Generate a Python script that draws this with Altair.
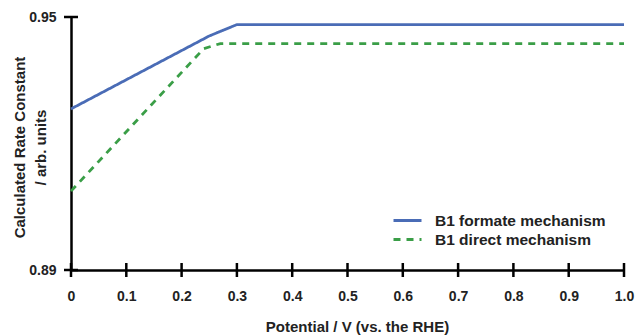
import altair as alt
import pandas as pd

series_names = ["B1 formate mechanism", "B1 direct mechanism"]
potential_formate = [0.0, 0.25, 0.3, 1.0]
rate_formate = [0.9282, 0.9455, 0.9482, 0.9482]
potential_direct = [0.0, 0.24, 0.27, 1.0]
rate_direct = [0.9087, 0.9425, 0.9437, 0.9437]
x_tick_values = [0.0, 0.1, 0.2, 0.3, 0.4, 0.5, 0.6, 0.7, 0.8, 0.9, 1.0]
y_tick_values = [0.89, 0.95]

blue = "#4a6cb6"
green = "#3a9e47"
font = "Liberation Sans"
txt = "#222222"

df = pd.concat([
    pd.DataFrame({"potential": potential_formate, "rate": rate_formate, "series": series_names[0]}),
    pd.DataFrame({"potential": potential_direct, "rate": rate_direct, "series": series_names[1]}),
])
xticks_df = pd.DataFrame({"potential": x_tick_values, "rate": [y_tick_values[0]] * len(x_tick_values)})
yticks_df = pd.DataFrame({"potential": [x_tick_values[0]] * len(y_tick_values), "rate": y_tick_values})

x_scale = alt.Scale(domain=[0, 1], nice=False, zero=False)
y_scale = alt.Scale(domain=[0.89, 0.95], nice=False, zero=False)

x_enc = alt.X(
    "potential:Q",
    scale=x_scale,
    axis=alt.Axis(
        values=x_tick_values,
        labelExpr="datum.value == 0 ? '0' : format(datum.value, '.1f')",
        title="Potential / V (vs. the RHE)",
        ticks=False, grid=False,
        domainColor="black", domainWidth=2.5,
        labelFont=font, labelFontSize=14, labelFontWeight="bold", labelColor=txt,
        labelPadding=19, labelFlush=False,
        titleFont=font, titleFontSize=15, titleFontWeight="bold", titleColor=txt,
        titleY=56, titleX=286, titleAlign="center", titleBaseline="middle",
    ),
)
y_enc = alt.Y(
    "rate:Q",
    scale=y_scale,
    axis=alt.Axis(
        values=y_tick_values, format=".2f",
        title=["Calculated Rate Constant", "/ arb. units"],
        ticks=False, grid=False,
        domainColor="black", domainWidth=2.5,
        labelFont=font, labelFontSize=14, labelFontWeight="bold", labelColor=txt,
        labelPadding=15, labelFlush=False,
        titleFont=font, titleFontSize=15, titleFontWeight="bold", titleColor=txt,
        titleAngle=-90, titleX=-59, titleY=130, titleBaseline="top", titleLineHeight=21,
        titleAlign="center",
    ),
)

lines = alt.Chart(df).mark_line(strokeWidth=2.8).encode(
    x=x_enc,
    y=y_enc,
    color=alt.Color("series:N", scale=alt.Scale(domain=series_names, range=[blue, green]),
                    legend=alt.Legend(title=None)),
    strokeDash=alt.StrokeDash("series:N", scale=alt.Scale(domain=series_names, range=[[1, 0], [7, 6]]),
                              legend=alt.Legend(title=None)),
)

xticks = alt.Chart(xticks_df).mark_tick(
    color="black", thickness=2.5, size=14, opacity=1, orient="vertical"
).encode(x=x_enc, y=y_enc)
yticks = alt.Chart(yticks_df).mark_tick(
    color="black", thickness=2.5, size=14, opacity=1, orient="horizontal"
).encode(x=x_enc, y=y_enc)

chart = alt.layer(xticks, yticks, lines).properties(
    width=553, height=253,
    padding={"left": 71, "top": 17, "right": 12, "bottom": 65},
    autosize=alt.AutoSizeParams(type="none"),
).configure_view(stroke=None).configure_axis(zindex=0).configure_legend(
    orient="none", legendX=328, legendY=195,
    symbolType="M-2,0H2", symbolStrokeWidth=2.8, symbolSize=196,
    labelFont=font, labelFontSize=15.5, labelFontWeight="bold", labelColor=txt,
    labelOffset=19, labelLimit=0, rowPadding=2, padding=0,
)

chart.save("out.html", embed_options={"renderer": "svg", "actions": False})
